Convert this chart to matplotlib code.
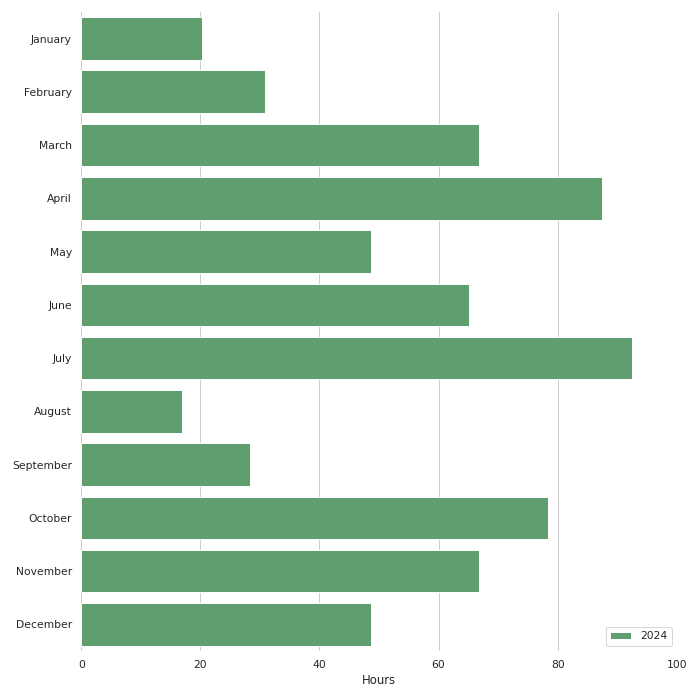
import matplotlib
matplotlib.use("Agg")
import matplotlib.pyplot as plt
import seaborn as sns

months = ['January', 'February', 'March', 'April', 'May', 'June',
          'July', 'August', 'September', 'October', 'November', 'December']
hours_2024 = [20.2, 30.9, 66.7, 87.5, 48.7, 65.1, 92.4, 17.0, 28.3, 78.3, 66.8, 48.7]

sns.set_theme(style="whitegrid")

# 10x10 in at 70 dpi -> 700x700 px
fig, ax = plt.subplots(figsize=(10, 10), dpi=70)
ax.barh(months, hours_2024, height=0.8, color="#5f9e6e",
        edgecolor="white", linewidth=1, label="2024")
ax.set_ylim(len(months) - 0.5, -0.5)
ax.set_xlim(0, 100)
ax.set_xlabel("Hours")
ax.set_ylabel("")
ax.grid(axis="y", visible=False)
ax.legend(loc="lower right")
sns.despine(left=True, bottom=True)
ax.axvline(0, color="#cccccc", linewidth=1, zorder=0)

fig.subplots_adjust(left=0.116, right=0.967, top=0.983, bottom=0.07)
fig.savefig("out.png")
